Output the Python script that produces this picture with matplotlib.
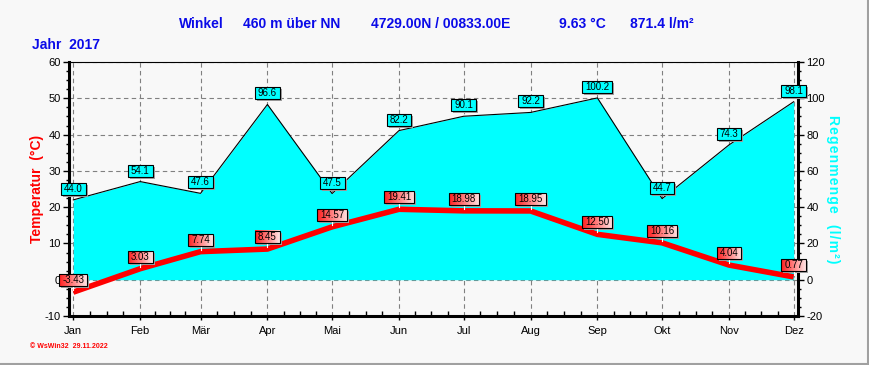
import matplotlib
matplotlib.use('Agg')
import matplotlib.pyplot as plt
import numpy as np
from matplotlib.image import BboxImage
from matplotlib.transforms import Bbox, IdentityTransform
from matplotlib.patches import Rectangle
from matplotlib.lines import Line2D

plt.rcParams['font.family'] = ['Liberation Sans', 'DejaVu Sans']
plt.rcParams['axes.unicode_minus'] = False

# ---------------- data ----------------
months = ['Jan', 'Feb', 'Mär', 'Apr', 'Mai', 'Jun', 'Jul', 'Aug', 'Sep', 'Okt', 'Nov', 'Dez']
month_days = [31, 28, 31, 30, 31, 30, 31, 31, 30, 31, 30, 31]
temperature = [-3.43, 3.03, 7.74, 8.45, 14.57, 19.41, 18.98, 18.95, 12.50, 10.16, 4.04, 0.77]
rain = [44.0, 54.1, 47.6, 96.6, 47.5, 82.2, 90.1, 92.2, 100.2, 44.7, 74.3, 98.1]
temp_ticks = [-10, 0, 10, 20, 30, 40, 50, 60]
rain_ticks = [-20, 0, 20, 40, 60, 80, 100, 120]

title_parts = ['Winkel', '460 m über NN', '4729.00N / 00833.00E', '9.63 °C', '871.4 l/m²']
year_text = 'Jahr  2017'
left_label = 'Temperatur  (°C)'
right_label = 'Regenmenge  (l/m²)'
footer = '© WsWin32  29.11.2022'

# ---------------- layout ----------------
W, H = 869, 365
BG = '#F8F8F8'
BLUE = '#0A0AE8'
CYAN = '#00FFFF'
RED = '#FF0000'

fig = plt.figure(figsize=(W / 100, H / 100), dpi=100, facecolor=BG)
L, R, T, B = 69, 798, 62, 316
ax1 = fig.add_axes([L / W, 1 - B / H, (R - L) / W, (B - T) / H])
ax2 = ax1.twinx()
ax1.set_zorder(2)
ax1.patch.set_visible(False)
ax2.set_zorder(1)
ax2.patch.set_visible(True)
ax2.patch.set_facecolor(BG)

starts = np.concatenate([[0], np.cumsum(month_days[:-1])])

ax1.set_xlim(-2, starts[-1] + 2)
ax1.set_ylim(temp_ticks[0], temp_ticks[-1])
ax2.set_ylim(rain_ticks[0], rain_ticks[-1])

# grid (under the rain fill)
GRID = dict(linestyle=(0, (4, 3)), color='#808080', lw=0.8)
ax2.set_axisbelow(True)
ax2.grid(True, which='major', axis='y', **GRID)
for x in starts:
    ax2.axvline(x, zorder=0.5, **GRID)
ax1.grid(False)

# rain fill
ax2.fill_between(starts, 0, rain, color=CYAN, lw=0, zorder=2)
ax2.plot(starts, rain, color='black', lw=0.8, zorder=3)

# temperature line
ax1.plot(starts, temperature, color=RED, lw=4, solid_capstyle='butt', zorder=3)

# ticks
ax1.set_xticks(starts)
ax1.set_xticklabels(months)
minor_x = []
for i in range(len(starts) - 1):
    for k in (1, 2, 3):
        minor_x.append(starts[i] + k * month_days[i] / 4)
ax1.set_xticks(minor_x, minor=True)
ax1.tick_params(axis='x', which='major', direction='out', length=3, width=1, labelsize=8, pad=4)
ax1.tick_params(axis='x', which='minor', direction='in', length=3.5, width=1)

ax1.set_yticks(temp_ticks)
ax1.set_yticks(np.arange(temp_ticks[0], temp_ticks[-1] + 0.1, 2.5), minor=True)
ax1.tick_params(axis='y', which='major', direction='out', length=4, width=1, labelsize=8, pad=2)
ax1.tick_params(axis='y', which='minor', direction='out', length=2, width=1)

ax2.set_yticks(rain_ticks)
ax2.set_yticks(np.arange(rain_ticks[0], rain_ticks[-1] + 0.1, 5), minor=True)
ax2.tick_params(axis='y', which='major', direction='out', length=4, width=1, labelsize=8, pad=2)
ax2.tick_params(axis='y', which='minor', direction='out', length=2, width=1)

# spines
for s in ax2.spines.values():
    s.set_visible(False)
ax2.spines['right'].set_visible(True)
ax2.spines['right'].set_linewidth(2.2)
ax1.spines['right'].set_visible(False)
ax1.spines['left'].set_linewidth(2.2)
ax1.spines['bottom'].set_linewidth(2.2)
ax1.spines['top'].set_linewidth(0.8)

# texts
title_x = [179, 243, 371, 559, 630]
for s, x in zip(title_parts, title_x):
    fig.text(x / W, 1 - 24 / H, s, ha='left', va='center', fontsize=10,
             fontweight='bold', color=BLUE)
fig.text(32 / W, 1 - 45 / H, year_text, ha='left', va='center', fontsize=10,
         fontweight='bold', color=BLUE)
fig.text(37 / W, 1 - 189 / H, left_label, rotation=90, ha='center', va='center',
         fontsize=10, fontweight='bold', color=RED)
fig.text(833 / W, 1 - 189 / H, '\u200a'.join(right_label), rotation=-90, ha='center',
         va='center', fontsize=10, fontweight='bold', color=CYAN)
fig.text(30 / W, 1 - 346 / H, footer, ha='left', va='center', fontsize=5,
         fontweight='bold', color=RED)

# border
fig.add_artist(Line2D([0, W], [1.5, 1.5], transform=IdentityTransform(), color='#A0A0A0', lw=1.5))
fig.add_artist(Line2D([W - 1.5, W - 1.5], [0, H], transform=IdentityTransform(), color='#A0A0A0', lw=1.5))

# value labels
fig.canvas.draw()
renderer = fig.canvas.get_renderer()

grad = np.zeros((1, 64, 3))
grad[0, :, 0] = 1.0
grad[0, :, 1] = np.linspace(0.12, 0.9, 64)
grad[0, :, 2] = np.linspace(0.12, 0.9, 64)


def box_label(px, py, s, kind):
    cy = py + (12 if kind == 'temp' else 11)
    t = fig.text(px / W, cy / H, s, ha='center', va='center', fontsize=7, color='black', zorder=12)
    ext = t.get_window_extent(renderer=renderer)
    w = ext.width + 6
    h = 12
    x0 = px - w / 2
    y0 = cy - h / 2
    fig.add_artist(Rectangle((x0 + 2, y0 - 2), w, h, transform=IdentityTransform(),
                             facecolor='#A0A0A0', edgecolor='none', zorder=8))
    if kind == 'temp':
        im = BboxImage(Bbox.from_extents(x0, y0, x0 + w, y0 + h), interpolation='bilinear')
        im.set_data(grad)
        im.set_zorder(9)
        fig.add_artist(im)
        fig.add_artist(Line2D([px, px], [py + 2, y0], transform=IdentityTransform(),
                              color='white', lw=0.8, zorder=9))
        fc = 'none'
    else:
        fc = CYAN
    fig.add_artist(Rectangle((x0, y0), w, h, transform=IdentityTransform(),
                             facecolor=fc, edgecolor='black', lw=0.8, zorder=10))


for x, v in zip(starts, rain):
    px, py = ax2.transData.transform((x, v))
    box_label(px, py, f'{v:.1f}', 'rain')
for x, v in zip(starts, temperature):
    px, py = ax1.transData.transform((x, v))
    box_label(px, py, f'{v:.2f}', 'temp')

fig.savefig('out.png', dpi=100, facecolor=fig.get_facecolor())
